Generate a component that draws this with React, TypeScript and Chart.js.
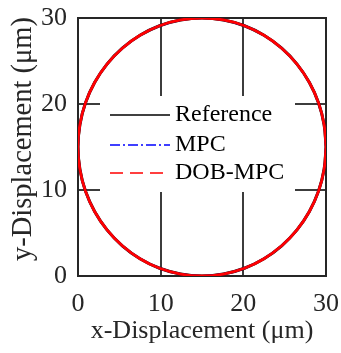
import React, { useEffect, useRef } from "react";
import { Chart, registerables } from "chart.js";

Chart.register(...registerables);

// Circle trajectory (µm), every 10°
const refX = [30, 29.77, 29.1, 27.99, 26.49, 24.64, 22.5, 20.13, 17.6, 15, 12.4, 9.87, 7.5, 5.36, 3.51, 2.01, 0.9, 0.23, 0, 0.23, 0.9, 2.01, 3.51, 5.36, 7.5, 9.87, 12.4, 15, 17.6, 20.13, 22.5, 24.64, 26.49, 27.99, 29.1, 29.77, 30];
const refY = [15, 17.6, 20.13, 22.5, 24.64, 26.49, 27.99, 29.1, 29.77, 30, 29.77, 29.1, 27.99, 26.49, 24.64, 22.5, 20.13, 17.6, 15, 12.4, 9.87, 7.5, 5.36, 3.51, 2.01, 0.9, 0.23, 0, 0.23, 0.9, 2.01, 3.51, 5.36, 7.5, 9.87, 12.4, 15];
const mpcX = refX;
const mpcY = refY;
const dobX = refX;
const dobY = refY;

const seriesLabels = ["Reference", "MPC", "DOB-MPC"];
const seriesColors = ["#000000", "#0000ff", "#ff0000"];
const legendDashes = [[], [10, 3, 2, 3], [13, 7]];

const xTicks = [0, 10, 20, 30];
const yTicks = [0, 10, 20, 30];
const xTitle = "x-Displacement (μm)";
const yTitle = "y-Displacement (μm)";

const FONT = "'Liberation Serif', 'Times New Roman', serif";

function pts(xs: number[], ys: number[]) {
  return xs.map((x, i) => ({ x, y: ys[i] }));
}

const framePlugin = {
  id: "frame",
  beforeDatasetsDraw(chart: any) {
    const { ctx, chartArea: a } = chart;
    ctx.save();
    ctx.strokeStyle = "#262626";
    ctx.lineWidth = 2;
    ctx.strokeRect(a.left, a.top, a.right - a.left, a.bottom - a.top);
    ctx.restore();
  },
};

const yTitlePlugin = {
  id: "yTitle",
  afterDraw(chart: any) {
    const { ctx } = chart;
    ctx.save();
    ctx.translate(31, 139);
    ctx.rotate(-Math.PI / 2);
    ctx.font = `28.5px ${FONT}`;
    ctx.fillStyle = "#262626";
    ctx.textAlign = "center";
    ctx.textBaseline = "alphabetic";
    ctx.fillText(yTitle, 0, 0);
    ctx.restore();
  },
};

const legendPlugin = {
  id: "boxLegend",
  afterDraw(chart: any) {
    const { ctx } = chart;
    ctx.save();
    ctx.fillStyle = "#ffffff";
    ctx.fillRect(100, 96, 195, 96);
    const rows = [115, 145, 173];
    for (let i = 0; i < seriesLabels.length; i++) {
      const y = rows[i];
      ctx.beginPath();
      ctx.setLineDash(legendDashes[i]);
      ctx.strokeStyle = seriesColors[i];
      ctx.lineWidth = 1.5;
      ctx.moveTo(110, y);
      ctx.lineTo(170, y);
      ctx.stroke();
      ctx.setLineDash([]);
      ctx.fillStyle = "#000000";
      ctx.font = `24px ${FONT}`;
      ctx.textBaseline = "middle";
      ctx.textAlign = "left";
      ctx.fillText(seriesLabels[i], 175, y);
    }
    ctx.restore();
  },
};

export default function App() {
  const ref = useRef<HTMLCanvasElement | null>(null);
  useEffect(() => {
    if (!ref.current) return;
    const gridColor = (c: any) =>
      c.tick && (c.tick.value === 10 || c.tick.value === 20) ? "#3c3c3c" : "rgba(0,0,0,0)";
    const chart = new Chart(ref.current, {
      type: "scatter",
      data: {
        datasets: [
          {
            label: seriesLabels[2],
            data: pts(dobX, dobY),
            borderColor: seriesColors[2],
            borderWidth: 2.8,
            showLine: true,
            pointRadius: 0,
            tension: 0.4,
            order: 0,
          },
          {
            label: seriesLabels[1],
            data: pts(mpcX, mpcY),
            borderColor: seriesColors[1],
            borderWidth: 2,
            showLine: true,
            pointRadius: 0,
            tension: 0.4,
            order: 1,
          },
          {
            label: seriesLabels[0],
            data: pts(refX, refY),
            borderColor: seriesColors[0],
            borderWidth: 3,
            showLine: true,
            pointRadius: 0,
            tension: 0.4,
            order: 2,
          },
        ],
      },
      options: {
        animation: false,
        responsive: false,
        layout: { padding: { top: 18, right: 15, left: 0, bottom: 0 } },
        plugins: { legend: { display: false }, tooltip: { enabled: false } },
        scales: {
          x: {
            type: "linear",
            min: 0,
            max: 30,
            afterBuildTicks: (s: any) => {
              s.ticks = xTicks.map((v) => ({ value: v }));
            },
            afterFit: (s: any) => {
              s.height = 77;
              s.paddingLeft = 0;
              s.paddingRight = 0;
            },
            ticks: { font: { family: FONT, size: 26 }, color: "#262626", padding: 13, maxRotation: 0 },
            grid: { color: gridColor, lineWidth: 2, drawTicks: false },
            border: { display: false },
            title: {
              display: true,
              text: xTitle,
              font: { family: FONT, size: 26 },
              color: "#262626",
              padding: { top: 0, bottom: 6 },
            },
          },
          y: {
            type: "linear",
            min: 0,
            max: 30,
            afterBuildTicks: (s: any) => {
              s.ticks = yTicks.map((v) => ({ value: v }));
            },
            afterFit: (s: any) => {
              s.width = 78;
              s.paddingTop = 0;
              s.paddingBottom = 0;
            },
            ticks: { font: { family: FONT, size: 26 }, color: "#262626", padding: 11 },
            grid: { color: gridColor, lineWidth: 2, drawTicks: false },
            border: { display: false },
            title: { display: false },
          },
        },
      },
      plugins: [framePlugin, legendPlugin, yTitlePlugin],
    } as any);
    return () => chart.destroy();
  }, []);
  return (
    <div style={{ position: "fixed", left: 0, top: 0, width: 341, height: 353, background: "#fff" }}>
      <canvas ref={ref} width={341} height={353} style={{ width: 341, height: 353, display: "block" }} />
    </div>
  );
}
